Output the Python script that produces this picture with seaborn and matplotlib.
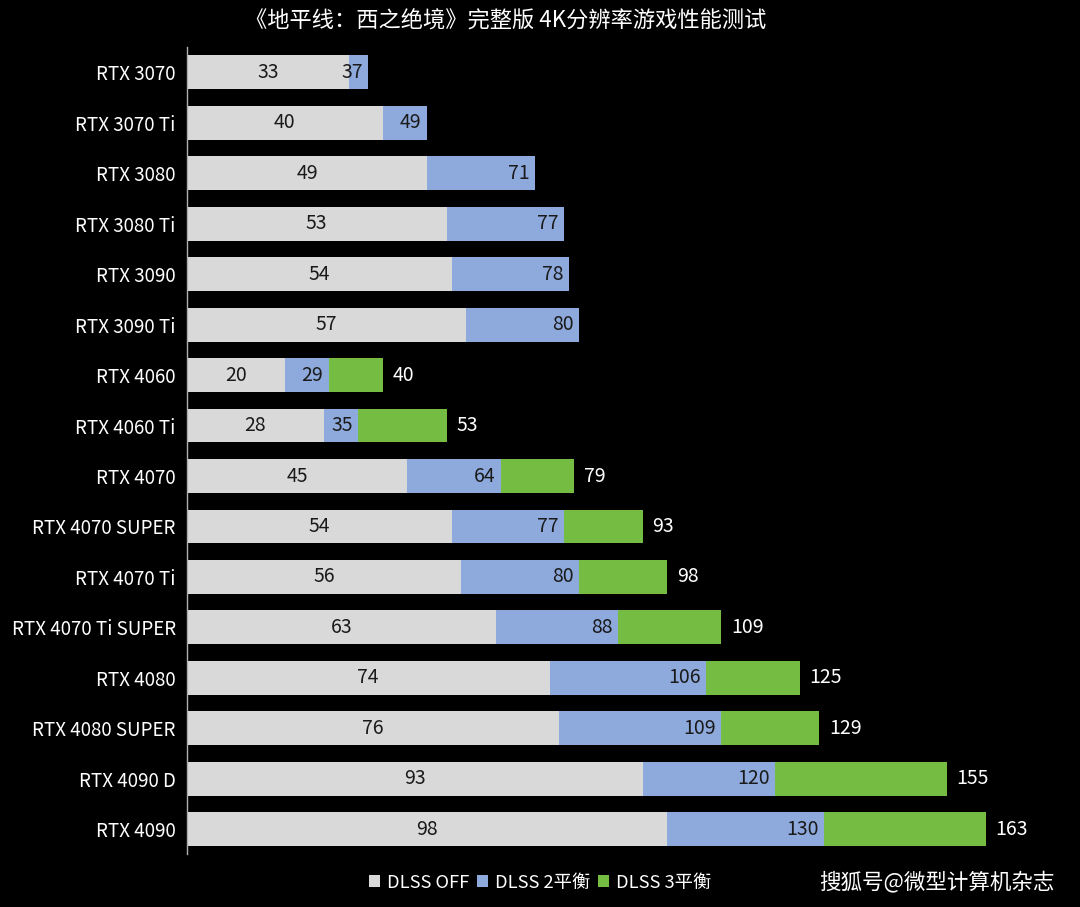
import numpy as np
import pandas as pd
import seaborn as sns
import matplotlib.pyplot as plt
from matplotlib.patches import Patch

# data
gpus = ["RTX 3070", "RTX 3070 Ti", "RTX 3080", "RTX 3080 Ti", "RTX 3090",
        "RTX 3090 Ti", "RTX 4060", "RTX 4060 Ti", "RTX 4070", "RTX 4070 SUPER",
        "RTX 4070 Ti", "RTX 4070 Ti SUPER", "RTX 4080", "RTX 4080 SUPER",
        "RTX 4090 D", "RTX 4090"]
dlss_off = [33, 40, 49, 53, 54, 57, 20, 28, 45, 54, 56, 63, 74, 76, 93, 98]
dlss2 = [37, 49, 71, 77, 78, 80, 29, 35, 64, 77, 80, 88, 106, 109, 120, 130]
dlss3 = [np.nan] * 6 + [40, 53, 79, 93, 98, 109, 125, 129, 155, 163]
series_names = ["DLSS OFF", "DLSS 2平衡", "DLSS 3平衡"]
colors = ["#d9d9d9", "#8eaadc", "#75bc42"]

df = pd.DataFrame({"gpu": gpus, "off": dlss_off, "d2": dlss2, "d3": dlss3})
df3 = df.dropna(subset=["d3"])

sns.set_style("dark")
plt.rcParams['font.family'] = ['Noto Sans CJK SC', 'DejaVu Sans']

fig = plt.figure(figsize=(10.8, 9.07), dpi=100, facecolor="black")
ax = fig.add_axes([0.173, 0.058, 0.817, 0.890])
ax.set_facecolor("black")

# longest first so the shorter bars sit on top
kw = dict(y="gpu", order=gpus, saturation=1, width=0.67, ax=ax, orient="h",
          linewidth=0)
sns.barplot(data=df3, x="d3", color=colors[2], **kw)
sns.barplot(data=df, x="d2", color=colors[1], **kw)
sns.barplot(data=df, x="off", color=colors[0], **kw)

c3, c2, c1 = ax.containers[:3]
ax.bar_label(c3, labels=[f"{int(v)}" for v in df3["d3"]], padding=7,
             color="white", fontsize=14)
t2 = ax.bar_label(c2, labels=[f"{v}" for v in dlss2], padding=-4,
                  color="#1a1a1a", fontsize=14)
for t in t2:
    t.set_ha("right")
ax.bar_label(c1, labels=[f"{v}" for v in dlss_off], label_type="center",
             color="#1a1a1a", fontsize=14)

ax.set_xlim(0, 180)
ax.set_xlabel("")
ax.set_ylabel("")
ax.set_xticks([])
ax.tick_params(axis="y", colors="white", labelsize=13.5, length=0, pad=8)
ax.grid(False)
for s in ["top", "right", "bottom"]:
    ax.spines[s].set_visible(False)
ax.spines["left"].set_color("#b0b0b0")
ax.spines["left"].set_linewidth(1)

fig.text(0.468, 0.977, "《地平线：西之绝境》完整版 4K分辨率游戏性能测试",
         ha="center", va="center", color="white", fontsize=16)

handles = [Patch(facecolor=c, edgecolor="none") for c in colors]
fig.legend(handles, series_names, loc="center", bbox_to_anchor=(0.50, 0.027),
           ncol=3, frameon=False, fontsize=13.2, labelcolor="white",
           handlelength=0.6, handleheight=0.6, handletextpad=0.4,
           columnspacing=0.4)

fig.text(0.867, 0.027, "搜狐号@微型计算机杂志", ha="center", va="center",
         color="white", fontsize=15.5, fontweight="medium")

fig.savefig("out.png", dpi=100, facecolor="black")
